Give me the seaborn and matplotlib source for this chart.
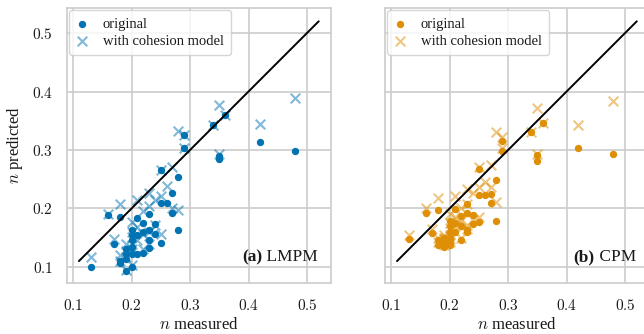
import matplotlib
matplotlib.use("Agg")
import matplotlib.pyplot as plt
import seaborn as sns
import pandas as pd

# measured n (shared by both panels)
n_measured = [0.13, 0.16, 0.17, 0.18, 0.18, 0.18, 0.19, 0.19, 0.19, 0.19,
              0.20, 0.20, 0.20, 0.20, 0.20, 0.20, 0.21, 0.21, 0.21, 0.22,
              0.22, 0.22, 0.23, 0.23, 0.23, 0.23, 0.24, 0.24, 0.25, 0.25,
              0.26, 0.27, 0.27, 0.28, 0.28, 0.25, 0.29, 0.29, 0.34, 0.35,
              0.35, 0.36, 0.42, 0.48]
# (a) LMPM predictions
lmpm_original = [0.100, 0.189, 0.139, 0.185, 0.111, 0.106, 0.131, 0.123, 0.114, 0.093,
                 0.100, 0.163, 0.154, 0.146, 0.134, 0.123, 0.183, 0.154, 0.123, 0.175,
                 0.160, 0.124, 0.191, 0.163, 0.146, 0.133, 0.174, 0.156, 0.210, 0.141,
                 0.210, 0.226, 0.193, 0.253, 0.164, 0.265, 0.326, 0.304, 0.343, 0.290,
                 0.284, 0.360, 0.313, 0.299]
lmpm_cohesion = [0.117, 0.191, 0.147, 0.207, 0.120, 0.110, 0.140, 0.128, 0.117, 0.095,
                 0.104, 0.177, 0.160, 0.152, 0.131, 0.126, 0.214, 0.169, 0.146, 0.196,
                 0.157, 0.130, 0.226, 0.204, 0.160, 0.140, 0.214, 0.171, 0.222, 0.157,
                 0.238, 0.271, 0.200, 0.333, 0.198, 0.266, 0.326, 0.304, 0.343, 0.294,
                 0.377, 0.360, 0.344, 0.389]
# (b) CPM predictions
cpm_original = [0.147, 0.193, 0.158, 0.197, 0.146, 0.137, 0.141, 0.150, 0.145, 0.135,
                0.138, 0.179, 0.170, 0.160, 0.152, 0.145, 0.199, 0.175, 0.160, 0.187,
                0.170, 0.146, 0.207, 0.193, 0.164, 0.160, 0.189, 0.173, 0.223, 0.177,
                0.223, 0.225, 0.210, 0.249, 0.179, 0.267, 0.315, 0.298, 0.331, 0.291,
                0.281, 0.347, 0.304, 0.293]
cpm_cohesion = [0.155, 0.200, 0.165, 0.218, 0.150, 0.142, 0.150, 0.155, 0.148, 0.138,
                0.142, 0.190, 0.175, 0.166, 0.155, 0.148, 0.222, 0.185, 0.170, 0.200,
                0.178, 0.150, 0.233, 0.208, 0.172, 0.165, 0.226, 0.180, 0.236, 0.186,
                0.246, 0.274, 0.236, 0.330, 0.211, 0.271, 0.323, 0.304, 0.331, 0.294,
                0.371, 0.347, 0.343, 0.384]
identity_range = [0.11, 0.52]
panel_titles = ["(a)", "(b)"]
panel_names = ["LMPM", "CPM"]
series_labels = ["original", "with cohesion model"]
tick_values = [0.1, 0.2, 0.3, 0.4, 0.5]

sns.set_theme(style="whitegrid")
plt.rcParams["font.family"] = ["Liberation Serif", "DejaVu Serif"]
plt.rcParams["mathtext.fontset"] = "cm"
plt.rcParams["axes.edgecolor"] = "#cccccc"
plt.rcParams["grid.color"] = "#cccccc"
plt.rcParams["axes.linewidth"] = 1.2
plt.rcParams["grid.linewidth"] = 1.2

palette = sns.color_palette("colorblind")
colors = [palette[0], palette[1]]
text_color = "#1a1a1a"

fig = plt.figure(figsize=(6.44, 3.34), dpi=100)
ax_l = fig.add_axes([0.1039, 0.1527, 0.4096, 0.8234])
ax_r = fig.add_axes([0.5978, 0.1527, 0.4096, 0.8234])
axes = [ax_l, ax_r]
preds = [(lmpm_original, lmpm_cohesion), (cpm_original, cpm_cohesion)]
tick_text = [f"${t:.1f}$" for t in tick_values]

for i, ax in enumerate(axes):
    orig, coh = preds[i]
    df = pd.DataFrame({"measured": n_measured, "orig": orig, "coh": coh})
    sns.scatterplot(data=df, x="measured", y="orig", ax=ax, color=colors[i],
                    s=28, linewidth=0, marker="o", label=series_labels[0], zorder=3)
    sns.scatterplot(data=df, x="measured", y="coh", ax=ax, color=colors[i],
                    s=48, linewidth=1.5, marker="x", alpha=0.5,
                    label=series_labels[1], zorder=3)
    sns.lineplot(x=identity_range, y=identity_range, ax=ax, color="black",
                 linewidth=1.4, zorder=4)
    ax.set_xlim(0.0895, 0.5405)
    ax.set_ylim(0.0726, 0.5428)
    ax.set_xticks(tick_values)
    ax.set_yticks(tick_values)
    ax.set_xticklabels(tick_text)
    ax.tick_params(labelsize=11, colors=text_color, length=0)
    ax.tick_params(axis="x", pad=11)
    ax.tick_params(axis="y", pad=10)
    ax.set_xlabel("$n$ measured", fontsize=12, color=text_color, labelpad=3)
    if i == 0:
        ax.set_ylabel("$n$ predicted", fontsize=12, color=text_color, labelpad=5)
        ax.set_yticklabels(tick_text)
    else:
        ax.set_ylabel("")
        ax.set_yticklabels([])
    name = ax.text(0.951, 0.079, " " + panel_names[i], transform=ax.transAxes,
                   ha="right", va="baseline", fontsize=12.5, color=text_color, zorder=5)
    ax.annotate(panel_titles[i], xy=(0, 0), xycoords=name, ha="right", va="bottom",
                fontsize=12.5, fontweight="bold", color=text_color, zorder=5)
    leg = ax.legend(loc="upper left", fontsize=10.5, frameon=True,
                    borderaxespad=0.15, handletextpad=1.0, labelspacing=0.25,
                    borderpad=0.5, handlelength=0.8, fancybox=True)
    leg.get_frame().set_edgecolor("#cccccc")
    leg.get_frame().set_linewidth(1.0)
    for t in leg.get_texts():
        t.set_color(text_color)
    for spine in ax.spines.values():
        spine.set_visible(True)

fig.savefig("out.png", dpi=100)
